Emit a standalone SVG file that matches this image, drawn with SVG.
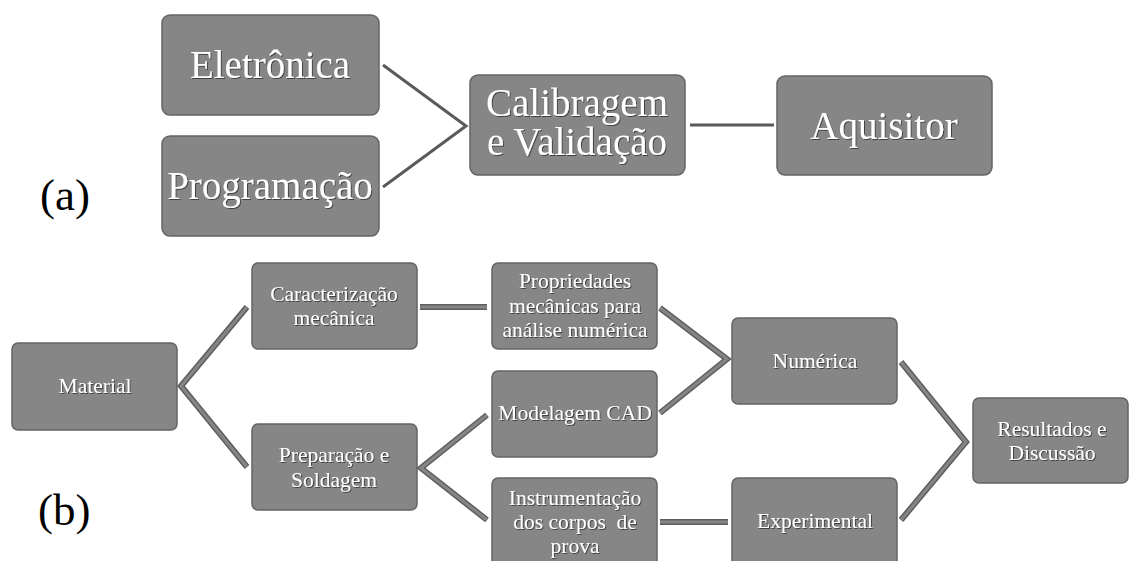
<svg xmlns="http://www.w3.org/2000/svg" width="1129" height="561" viewBox="0 0 1129 561">
<defs>
<filter id="ts" x="-10%" y="-20%" width="120%" height="140%">
<feDropShadow dx="1" dy="1" stdDeviation="0.6" flood-color="#333" flood-opacity="0.8"/>
</filter>
</defs>
<style>
.box{fill:#868686;stroke:#646464;stroke-width:1.5}
.t{font-family:"Liberation Serif","Times New Roman",serif;fill:#fff;text-anchor:middle;filter:url(#ts)}
.ta{font-size:39px}
.tb{font-size:21.5px}
.lbl{font-family:"Liberation Serif","Times New Roman",serif;font-size:45px;fill:#000}
.ca{stroke:#5a5a5a;stroke-width:3;fill:none}
.cb{stroke:#5e5e5e;stroke-width:6;fill:none;stroke-linejoin:miter}
.cbi{stroke:#858585;stroke-width:3;fill:none;stroke-linejoin:miter}
</style>
<rect width="1129" height="561" fill="#fff"/>
<g id="connectors">
<polyline class="ca" points="383,65 466,126 383,187"/>
<line class="ca" x1="690" y1="125" x2="774" y2="125"/>
<g id="conn-b-outer">
<polyline class="cb" points="247,307 181,386 247,467"/>
<line class="cb" x1="420" y1="307" x2="487" y2="307"/>
<polyline class="cb" points="487,415 421,468 487,520"/>
<polyline class="cb" points="660,308 727,359 660,413"/>
<line class="cb" x1="660" y1="522" x2="728" y2="522"/>
<polyline class="cb" points="901,362 966,442 901,520"/>
</g>
<g id="conn-b-inner">
<polyline class="cbi" points="247,307 181,386 247,467"/>
<line class="cbi" x1="420" y1="307" x2="487" y2="307"/>
<polyline class="cbi" points="487,415 421,468 487,520"/>
<polyline class="cbi" points="660,308 727,359 660,413"/>
<line class="cbi" x1="660" y1="522" x2="728" y2="522"/>
<polyline class="cbi" points="901,362 966,442 901,520"/>
</g>
</g>
<g id="eletronica"><rect class="box" x="162" y="15" width="217" height="100" rx="8"/><text class="t ta" x="270" y="78">Eletrônica</text></g>
<g id="programacao"><rect class="box" x="162" y="136" width="217" height="100" rx="8"/><text class="t ta" x="270" y="199">Programação</text></g>
<g id="calibragem"><rect class="box" x="470" y="75" width="215" height="100" rx="8"/><text class="t ta" x="577" y="116">Calibragem</text><text class="t ta" x="577" y="155">e Validação</text></g>
<g id="aquisitor"><rect class="box" x="777" y="76" width="215" height="99" rx="8"/><text class="t ta" x="884" y="139">Aquisitor</text></g>
<text class="lbl" x="40" y="210">(a)</text>
<g id="material"><rect class="box" x="12" y="343" width="165" height="87" rx="6"/><text class="t tb" x="95" y="393">Material</text></g>
<g id="caracterizacao"><rect class="box" x="252" y="263" width="165" height="86" rx="6"/><text class="t tb" x="334" y="301">Caracterização</text><text class="t tb" x="334" y="325">mecânica</text></g>
<g id="preparacao"><rect class="box" x="252" y="424" width="165" height="86" rx="6"/><text class="t tb" x="334" y="462">Preparação e</text><text class="t tb" x="334" y="487">Soldagem</text></g>
<g id="propriedades"><rect class="box" x="492" y="263" width="165" height="86" rx="6"/><text class="t tb" x="575" y="288">Propriedades</text><text class="t tb" x="575" y="313">mecânicas para</text><text class="t tb" x="575" y="337">análise numérica</text></g>
<g id="modelagem"><rect class="box" x="492" y="371" width="165" height="86" rx="6"/><text class="t tb" x="575" y="420">Modelagem CAD</text></g>
<g id="instrumentacao"><rect class="box" x="492" y="478" width="165" height="90" rx="6"/><text class="t tb" x="575" y="505">Instrumentação</text><text class="t tb" x="575" y="529" xml:space="preserve">dos corpos  de</text><text class="t tb" x="575" y="553">prova</text></g>
<g id="numerica"><rect class="box" x="732" y="318" width="165" height="86" rx="6"/><text class="t tb" x="815" y="368">Numérica</text></g>
<g id="experimental"><rect class="box" x="732" y="478" width="165" height="90" rx="6"/><text class="t tb" x="815" y="528">Experimental</text></g>
<g id="resultados"><rect class="box" x="973" y="398" width="155" height="85" rx="6"/><text class="t tb" x="1052" y="436">Resultados e</text><text class="t tb" x="1052" y="460">Discussão</text></g>
<text class="lbl" x="38" y="525">(b)</text>
</svg>
